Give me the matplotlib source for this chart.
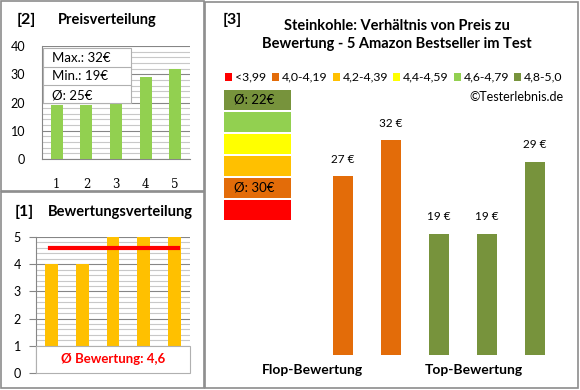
import matplotlib
matplotlib.use("Agg")
import matplotlib.pyplot as plt
from matplotlib.patches import Rectangle
from matplotlib.lines import Line2D
from matplotlib.ticker import MultipleLocator

plt.rcParams['font.family'] = ['Lato', 'DejaVu Sans']

# Daten
produkte = [1, 2, 3, 4, 5]
preise_sortiert = [19, 19, 27, 29, 32]
bewertungen = [4, 4, 5, 5, 5]
bewertung_mittel = 4.6
preise = [27, 32, 19, 19, 29]
bar_farben = ["#E36C09", "#E36C09", "#77933C", "#77933C", "#77933C"]
legende_labels = ["<3,99", "4,0-4,19", "4,2-4,39", "4,4-4,59", "4,6-4,79", "4,8-5,0"]
legende_farben = ["#FF0000", "#E36C09", "#FFC000", "#FFFF00", "#92D050", "#77933C"]
stapel_farben = ["#77933C", "#92D050", "#FFFF00", "#FFC000", "#E36C09", "#FF0000"]
stapel_texte = ["Ø: 22€", "", "", "", "Ø: 30€", ""]
info_texte = ["Max.: 32€", "Min.: 19€", "Ø: 25€"]

W, H = 580, 390
fig = plt.figure(figsize=(W / 100, H / 100), dpi=100)


def px_axes(x0, y0, x1, y1):
    return fig.add_axes([x0 / W, 1 - y1 / H, (x1 - x0) / W, (y1 - y0) / H])


def ftext(x, y, s, **kw):
    fig.text(x / W, 1 - y / H, s, **kw)


def frect(x0, y0, x1, y1, **kw):
    fig.add_artist(Rectangle((x0 / W, 1 - y1 / H), (x1 - x0) / W, (y1 - y0) / H,
                             transform=fig.transFigure, **kw))


# Rahmen
frect(1, 1, 204, 191, fill=False, edgecolor="#8c8c8c", lw=1.2)
frect(1, 192, 204, 388, fill=False, edgecolor="#8c8c8c", lw=1.2)
frect(205, 2, 578, 388, fill=False, edgecolor="#8c8c8c", lw=1.2)

# [2] Preisverteilung
ftext(17, 20, "[2]", fontsize=11.5, fontweight="bold", va="center")
ftext(58, 20, "Preisverteilung", fontsize=10.5, fontweight="bold", va="center")
ax2 = px_axes(42, 46, 190, 159)
ax2.bar(produkte, preise_sortiert, width=0.4, color="#92D050", zorder=3)
ax2.set_xlim(0.5, 5.5)
ax2.set_ylim(0, 40)
ax2.yaxis.set_major_locator(MultipleLocator(10))
ax2.yaxis.set_minor_locator(MultipleLocator(2))
ax2.grid(axis="y", which="major", color="#868686", lw=0.8)
ax2.grid(axis="y", which="minor", color="#c8c8c8", lw=0.8)
for s in ["top", "right"]:
    ax2.spines[s].set_visible(False)
ax2.spines["left"].set_color("#868686")
ax2.spines["bottom"].set_color("#868686")
ax2.tick_params(axis="y", which="both", length=0, labelsize=9, pad=12)
ax2.tick_params(axis="x", length=0, labelsize=8.5, pad=14)
ax2.set_xticks(produkte)
ax2.set_xticklabels([str(p) for p in produkte], fontfamily="DejaVu Serif")
# Info-Box
frect(43, 48, 131, 103, facecolor="white", edgecolor="#b0b0b0", lw=0.8, zorder=5)
for i, t in enumerate(info_texte):
    ftext(52, 58 + i * 18.5, t, fontsize=9.5, va="center", zorder=6)
for yy in [67, 85]:
    fig.add_artist(Line2D([43 / W, 131 / W], [1 - yy / H, 1 - yy / H],
                          color="#b0b0b0", lw=0.8, zorder=6))

# [1] Bewertungsverteilung
ftext(15, 212, "[1]", fontsize=11.5, fontweight="bold", va="center")
ftext(48, 212, "Bewertungsverteilung", fontsize=10.5, fontweight="bold", va="center")
ax1 = px_axes(36, 237, 190, 373)
ax1.bar(produkte, bewertungen, width=0.42, color="#FFC000", zorder=3)
ax1.plot([produkte[0] - 0.05, produkte[-1] + 0.1], [bewertung_mittel] * 2,
         color="#FF0000", lw=3, zorder=4)
ax1.set_xlim(0.5, 5.5)
ax1.set_ylim(0, 5)
ax1.yaxis.set_major_locator(MultipleLocator(1))
ax1.yaxis.set_minor_locator(MultipleLocator(0.2))
ax1.grid(axis="y", which="major", color="#868686", lw=0.8)
ax1.grid(axis="y", which="minor", color="#c8c8c8", lw=0.8)
for s in ["top", "right", "bottom"]:
    ax1.spines[s].set_visible(False)
ax1.spines["left"].set_color("#868686")
ax1.set_xticks([])
ax1.tick_params(axis="y", which="major", length=5, color="#868686", labelsize=9, pad=6)
ax1.tick_params(axis="y", which="minor", length=0)
ax1.add_patch(Rectangle((0, 0), 1, 1, transform=ax1.get_yaxis_transform(),
                        facecolor="white", edgecolor="#b0b0b0", lw=0.8, zorder=5,
                        clip_on=False))
ax1.text(0.5, 0.5, "Ø Bewertung: " + str(bewertung_mittel).replace(".", ","),
         transform=ax1.get_yaxis_transform(), ha="center", va="center",
         color="#FF0000", fontsize=9.5, fontweight="bold", zorder=6)

# [3] Preis vs. Bewertung
ftext(223, 20, "[3]", fontsize=11.5, fontweight="bold", va="center")
ftext(397, 35, "Steinkohle: Verhältnis von Preis zu\nBewertung - 5 Amazon Bestseller im Test",
      fontsize=10.5, fontweight="bold", ha="center", va="center", linespacing=1.45)
sq_x = [225, 272, 333, 393, 454, 514]
for x, lab, c in zip(sq_x, legende_labels, legende_farben):
    frect(x, 73.5, x + 7, 80.5, facecolor=c, edgecolor="none")
    ftext(x + 10, 77, lab, fontsize=8.8, va="center")
ftext(563, 97, "©Testerlebnis.de", fontsize=9, ha="right", va="center")

ax_s = px_axes(224, 89, 291, 221)
ax_s.barh(range(len(stapel_farben)), [1] * len(stapel_farben), height=0.92,
          color=stapel_farben)
for i, t in enumerate(stapel_texte):
    ax_s.text(0.15, i, t, va="center", ha="left", fontsize=9.5)
ax_s.set_xlim(0, 1)
ax_s.set_ylim(len(stapel_farben) - 0.5, -0.5)
ax_s.axis("off")

ax3 = px_axes(319, 90, 559, 355)
ax3.bar(produkte, preise, width=0.4, color=bar_farben)
for x, v in zip(produkte, preise):
    ax3.text(x, v + 1.6, f"{v} €", ha="center", va="bottom", fontsize=8.5)
ax3.set_xlim(0.5, 5.5)
ax3.set_ylim(2.2, 39)
ax3.axis("off")
ftext(312, 370, "Flop-Bewertung", fontsize=10, fontweight="bold", ha="center", va="center")
ftext(474, 370, "Top-Bewertung", fontsize=10, fontweight="bold", ha="center", va="center")

fig.savefig("out.png", dpi=100)
